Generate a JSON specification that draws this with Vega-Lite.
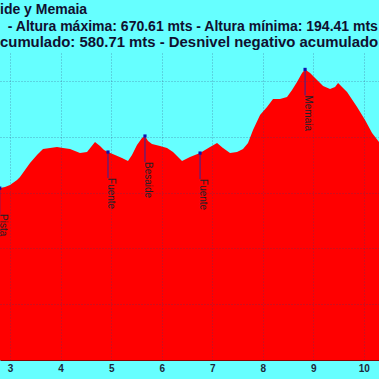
{
  "$schema": "https://vega.github.io/schema/vega-lite/v6.json",
  "width": 379,
  "height": 307,
  "autosize": {"type": "none"},
  "padding": {"top": 53, "left": 0, "right": 0, "bottom": 19},
  "background": "#66FFFF",
  "config": {
    "view": {"stroke": null},
    "font": "Liberation Sans"
  },
  "title": {
    "text": ["ide y Memaia", "\u200b\u00a0\u00a0- Altura máxima: 670.61 mts - Altura mínima: 194.41 mts"],
    "subtitle": "cumulado: 580.71 mts - Desnivel negativo acumulado: 580.71 mts",
    "anchor": "start",
    "frame": "group",
    "font": "Liberation Sans",
    "fontSize": 14,
    "fontWeight": "bold",
    "lineHeight": 17,
    "color": "#101030",
    "subtitleFont": "Liberation Sans",
    "subtitleFontSize": 14.9,
    "subtitleFontWeight": "bold",
    "subtitleColor": "#101030",
    "subtitleLineHeight": 17,
    "subtitlePadding": 1,
    "offset": 3
  },
  "datasets": {
    "profile": [
      {"km": 2.70, "ele": 456},
      {"km": 2.800, "ele": 458.1},
      {"km": 2.899, "ele": 459.9},
      {"km": 2.998, "ele": 463.5},
      {"km": 3.137, "ele": 472.5},
      {"km": 3.196, "ele": 477.8},
      {"km": 3.295, "ele": 490.4},
      {"km": 3.394, "ele": 502.9},
      {"km": 3.532, "ele": 517.3},
      {"km": 3.651, "ele": 528.0},
      {"km": 3.790, "ele": 529.8},
      {"km": 3.928, "ele": 531.6},
      {"km": 4.047, "ele": 529.8},
      {"km": 4.186, "ele": 528.0},
      {"km": 4.383, "ele": 520.8},
      {"km": 4.522, "ele": 522.6},
      {"km": 4.680, "ele": 540.5},
      {"km": 4.779, "ele": 533.4},
      {"km": 4.858, "ele": 526.2},
      {"km": 4.937, "ele": 522.6},
      {"km": 5.076, "ele": 517.3},
      {"km": 5.214, "ele": 511.9},
      {"km": 5.333, "ele": 506.5},
      {"km": 5.412, "ele": 517.3},
      {"km": 5.511, "ele": 535.2},
      {"km": 5.610, "ele": 547.7},
      {"km": 5.669, "ele": 551.3},
      {"km": 5.729, "ele": 542.3},
      {"km": 5.808, "ele": 537.0},
      {"km": 5.966, "ele": 533.4},
      {"km": 6.105, "ele": 529.8},
      {"km": 6.224, "ele": 522.6},
      {"km": 6.323, "ele": 513.7},
      {"km": 6.402, "ele": 506.5},
      {"km": 6.560, "ele": 513.7},
      {"km": 6.659, "ele": 517.3},
      {"km": 6.759, "ele": 520.8},
      {"km": 6.956, "ele": 531.6},
      {"km": 7.095, "ele": 538.8},
      {"km": 7.213, "ele": 529.8},
      {"km": 7.352, "ele": 520.8},
      {"km": 7.490, "ele": 522.6},
      {"km": 7.609, "ele": 528.0},
      {"km": 7.708, "ele": 538.8},
      {"km": 7.807, "ele": 562.0},
      {"km": 7.946, "ele": 588.9},
      {"km": 8.084, "ele": 603.2},
      {"km": 8.203, "ele": 617.6},
      {"km": 8.341, "ele": 617.6},
      {"km": 8.480, "ele": 621.2},
      {"km": 8.579, "ele": 633.7},
      {"km": 8.678, "ele": 648.0},
      {"km": 8.777, "ele": 664.2},
      {"km": 8.837, "ele": 670.61},
      {"km": 8.936, "ele": 664.2},
      {"km": 9.074, "ele": 651.6},
      {"km": 9.193, "ele": 640.9},
      {"km": 9.331, "ele": 635.5},
      {"km": 9.430, "ele": 639.1},
      {"km": 9.490, "ele": 646.2},
      {"km": 9.668, "ele": 630.1},
      {"km": 9.866, "ele": 603.2},
      {"km": 10.024, "ele": 580.0},
      {"km": 10.163, "ele": 556.7},
      {"km": 10.301, "ele": 540.5},
      {"km": 10.42, "ele": 526.0}
    ],
    "waypoints": [
      {"km": 2.795, "ele": 458.0, "name": "Pista"},
      {"km": 4.937, "ele": 522.6, "name": "Fuente"},
      {"km": 5.669, "ele": 551.3, "name": "Besaide"},
      {"km": 6.759, "ele": 520.8, "name": "Fuente"},
      {"km": 8.837, "ele": 670.61, "name": "Memaia"}
    ]
  },
  "layer": [
    {
      "data": {"name": "profile"},
      "mark": {"type": "area", "color": "#FF0000", "clip": true, "interpolate": "linear"},
      "encoding": {
        "x": {
          "field": "km", "type": "quantitative",
          "scale": {"domain": [2.8, 10.3], "nice": false, "zero": false},
          "axis": {
            "values": [3, 4, 5, 6, 7, 8, 9, 10],
            "format": "d",
            "title": null,
            "ticks": false,
            "labelFont": "Liberation Sans",
            "labelFontSize": 10,
            "labelFontWeight": "bold",
            "labelColor": "#1a2a3a",
            "labelPadding": 3,
            "labelFlush": false,
            "domainColor": "#8b0000",
            "grid": true,
            "gridColor": "#30407a",
            "gridOpacity": 0.45,
            "gridDash": [1, 2],
            "zindex": 1
          }
        },
        "y": {
          "field": "ele", "type": "quantitative",
          "scale": {"domain": [150, 700], "nice": false, "zero": false},
          "axis": {
            "values": [150, 200, 250, 300, 350, 400, 450, 500, 550, 600, 650, 700],
            "title": null,
            "labels": false,
            "ticks": false,
            "domain": false,
            "grid": true,
            "gridColor": "#30407a",
            "gridOpacity": 0.45,
            "gridDash": [1, 2],
            "zindex": 1
          }
        }
      }
    },
    {
      "data": {"name": "waypoints"},
      "mark": {"type": "rule", "color": "#2a2aa0", "strokeWidth": 1, "y2Offset": 26, "clip": true},
      "encoding": {
        "x": {"field": "km", "type": "quantitative"},
        "y": {"field": "ele", "type": "quantitative"},
        "y2": {"field": "ele"}
      }
    },
    {
      "data": {"name": "waypoints"},
      "mark": {"type": "point", "shape": "square", "filled": true, "size": 10, "color": "#1010b0", "opacity": 1, "clip": true},
      "encoding": {
        "x": {"field": "km", "type": "quantitative"},
        "y": {"field": "ele", "type": "quantitative"}
      }
    },
    {
      "data": {"name": "waypoints"},
      "mark": {"type": "text", "angle": 90, "align": "left", "baseline": "alphabetic", "dx": 26, "font": "Liberation Sans", "fontSize": 10, "color": "#202028", "clip": true},
      "encoding": {
        "x": {"field": "km", "type": "quantitative"},
        "y": {"field": "ele", "type": "quantitative"},
        "text": {"field": "name"}
      }
    }
  ]
}
